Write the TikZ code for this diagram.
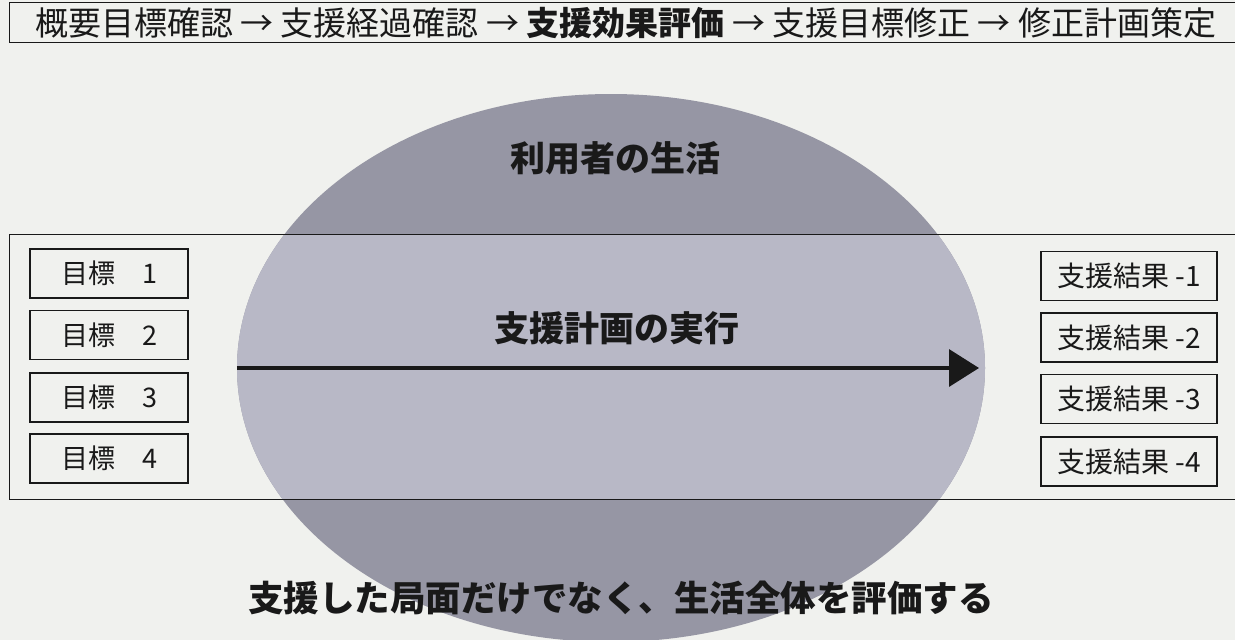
\documentclass[tikz,border=0pt]{standalone}
\usepackage{fontspec}
\setmainfont{Noto Sans CJK JP}
\usetikzlibrary{shapes.geometric,arrows.meta}
\definecolor{paper}{RGB}{240,241,238}
\definecolor{lifegray}{RGB}{150,150,164}
\definecolor{bandgray}{RGB}{184,184,198}
\definecolor{ink}{RGB}{25,25,25}
\tikzset{
  box/.style={draw=ink, line width=1.3pt, inner sep=0pt, text=ink},
  goalbox/.style={box, minimum width=158pt, minimum height=49pt, font=\fontsize{27}{27}\selectfont},
  resbox/.style={box, minimum width=176pt, minimum height=49pt, font=\fontsize{28}{28}\selectfont},
  bigtxt/.style={font=\fontsize{35}{35}\selectfont\bfseries, text=ink, inner sep=0pt},
}
\begin{document}
\begin{tikzpicture}[x=1pt,y=-1pt]
\useasboundingbox (0,0) rectangle (1235,640);
\fill[paper] (0,0) rectangle (1235,640);
% ellipse of the user's life (lighter inside the band)
\node[ellipse, fill=lifegray, minimum width=748pt, minimum height=548pt, inner sep=0pt,
      path picture={\fill[bandgray] (-700,-134) rectangle (700,131);}] (life) at (611,368) {};
% band
\node[box, minimum width=1240pt, minimum height=265pt, anchor=north west] (band) at (9,234) {};
% top process line
\node[box, minimum width=1240pt, minimum height=40pt, anchor=north west, font=\fontsize{33}{33}\selectfont] (flow) at (9,2)
  {\hspace*{-8pt}概要目標確認 → 支援経過確認 → {\bfseries 支援効果評価} → 支援目標修正 → 修正計画策定};
% labels
\node[bigtxt] (lifelbl) at (615,158) {利用者の生活};
\node[bigtxt] (planlbl) at (617,328) {支援計画の実行};
\node[bigtxt, font=\fontsize{35.5}{35.5}\selectfont\bfseries] (evallbl) at (621,598) {支援した局面だけでなく、生活全体を評価する};
% arrow
\coordinate (tip) at (979,368);
\draw[line width=3.5pt, ink, -{Triangle[length=30pt,width=37pt]}] (life.west) -- (tip);
% goals
\node[goalbox] (g1) at (109,273.5) {目標　1};
\node[goalbox] (g2) at (109,335) {目標　2};
\node[goalbox] (g3) at (109,397.5) {目標　3};
\node[goalbox] (g4) at (109,458.5) {目標　4};
% results
\node[resbox] (r1) at (1129,276) {支援結果 -1};
\node[resbox] (r2) at (1129,337.5) {支援結果 -2};
\node[resbox] (r3) at (1129,399) {支援結果 -3};
\node[resbox] (r4) at (1129,461.5) {支援結果 -4};
\end{tikzpicture}
\end{document}
